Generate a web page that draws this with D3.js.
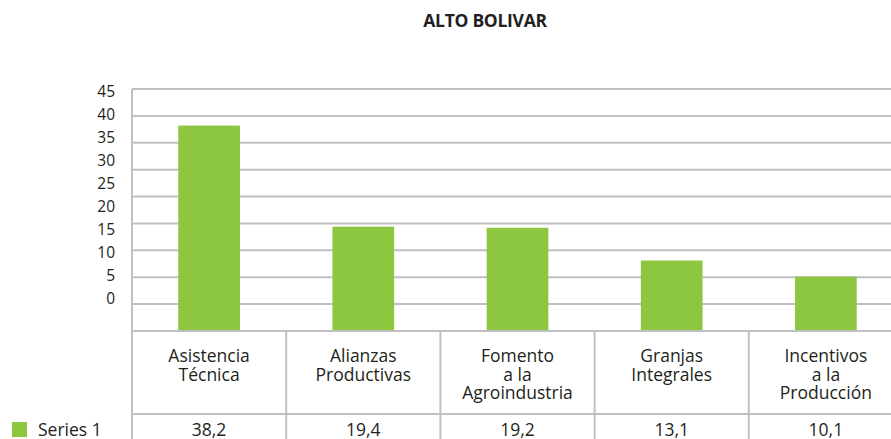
<!DOCTYPE html>
<html>
<head>
<meta charset="utf-8">
<script src="https://cdn.jsdelivr.net/npm/d3@7"></script>
<style>
  body { margin: 0; background: #fff; }
  text { font-family: 'Open Sans', sans-serif; fill: #231f20; }
</style>
</head>
<body>
<div id="chart"></div>
<script>
const TITLE = 'ALTO BOLIVAR'
const SERIES = 'Series 1'
const categories = [
  ['Asistencia', 'Técnica'],
  ['Alianzas', 'Productivas'],
  ['Fomento', 'a la', 'Agroindustria'],
  ['Granjas', 'Integrales'],
  ['Incentivos', 'a la', 'Producción']
]
const values = [38.2, 19.4, 19.2, 13.1, 10.1]
const yTicks = [0, 5, 10, 15, 20, 25, 30, 35, 40, 45]

const WIDTH = 891, HEIGHT = 439
const PLOT = { left: 132, right: 903, top: 89, bottom: 331 }
const TABLE_ROW = 414
const GREEN = '#8dc63f'
const GRID = '#c0bfc4'

const locale = d3.formatLocale({ decimal: ',', thousands: '.', grouping: [3], currency: ['', ''] })
const fmt = locale.format('.1f')

const svg = d3.select('#chart').append('svg')
  .attr('width', WIDTH)
  .attr('height', HEIGHT)

let x = d3.scaleBand()
  .domain(d3.range(categories.length))
  .range([PLOT.left, PLOT.right])
  .paddingInner(0.6)
  .paddingOuter(0.3)

let cols = d3.scaleBand()
  .domain(d3.range(categories.length))
  .range([PLOT.left, PLOT.right])

let y = d3.scaleLinear()
  .domain([0, 45])
  .range([PLOT.bottom, PLOT.top])

// the tick labels sit on their own (tighter) spacing, as in the source
let yLabel = d3.scaleLinear()
  .domain([0, 45])
  .range([298, 91])

// title
svg.append('text')
  .attr('x', 485)
  .attr('y', 27)
  .attr('text-anchor', 'middle')
  .attr('font-size', 17.5)
  .attr('font-weight', 'bold')
  .attr('letter-spacing', -0.3)
  .text(TITLE)

// gridlines
svg.append('g')
  .selectAll('line')
  .data(yTicks)
  .enter().append('line')
    .attr('x1', PLOT.left)
    .attr('x2', WIDTH)
    .attr('y1', (d) => y(d))
    .attr('y2', (d) => y(d))
    .attr('stroke', GRID)
    .attr('stroke-width', 2)

// y labels
svg.append('g')
  .selectAll('text')
  .data(yTicks)
  .enter().append('text')
    .attr('x', 115)
    .attr('y', (d) => yLabel(d))
    .attr('dy', '0.36em')
    .attr('text-anchor', 'end')
    .attr('font-size', 15.5)
    .text((d) => d)

// bars
svg.append('g')
  .selectAll('rect')
  .data(values)
  .enter().append('rect')
    .attr('x', (d, i) => x(i))
    .attr('width', x.bandwidth())
    .attr('y', (d) => y(d))
    .attr('height', (d) => y(0) - y(d))
    .attr('fill', GREEN)

// data table
let table = svg.append('g')

table.append('line')
  .attr('x1', PLOT.left).attr('x2', WIDTH)
  .attr('y1', y(0)).attr('y2', y(0))
  .attr('stroke', GRID).attr('stroke-width', 2)

table.append('line')
  .attr('x1', PLOT.left).attr('x2', WIDTH)
  .attr('y1', TABLE_ROW).attr('y2', TABLE_ROW)
  .attr('stroke', GRID).attr('stroke-width', 2)

table.append('line')
  .attr('x1', PLOT.left).attr('x2', PLOT.left)
  .attr('y1', PLOT.top).attr('y2', HEIGHT)
  .attr('stroke', GRID).attr('stroke-width', 2)

table.selectAll('.sep')
  .data(d3.range(1, categories.length))
  .enter().append('line')
    .attr('class', 'sep')
    .attr('x1', (i) => cols(i)).attr('x2', (i) => cols(i))
    .attr('y1', y(0)).attr('y2', HEIGHT)
    .attr('stroke', GRID).attr('stroke-width', 2)

let catLabel = table.selectAll('.cat')
  .data(categories)
  .enter().append('text')
    .attr('class', 'cat')
    .attr('text-anchor', 'middle')
    .attr('font-size', 17.5)

catLabel.selectAll('tspan')
  .data((d, i) => d.map((line) => ({ line, i })))
  .enter().append('tspan')
    .attr('x', (d) => cols(d.i) + cols.bandwidth() / 2)
    .attr('y', (d, j) => 362 + j * 18.5)
    .text((d) => d.line)

table.selectAll('.val')
  .data(values)
  .enter().append('text')
    .attr('class', 'val')
    .attr('x', (d, i) => cols(i) + cols.bandwidth() / 2)
    .attr('y', 436)
    .attr('text-anchor', 'middle')
    .attr('font-size', 17.5)
    .text((d) => fmt(d))

// legend
svg.append('rect')
  .attr('x', 12).attr('y', 422)
  .attr('width', 15).attr('height', 15)
  .attr('fill', GREEN)

svg.append('text')
  .attr('x', 38)
  .attr('y', 436)
  .attr('font-size', 17.5)
  .text(SERIES)
</script>
</body>
</html>
